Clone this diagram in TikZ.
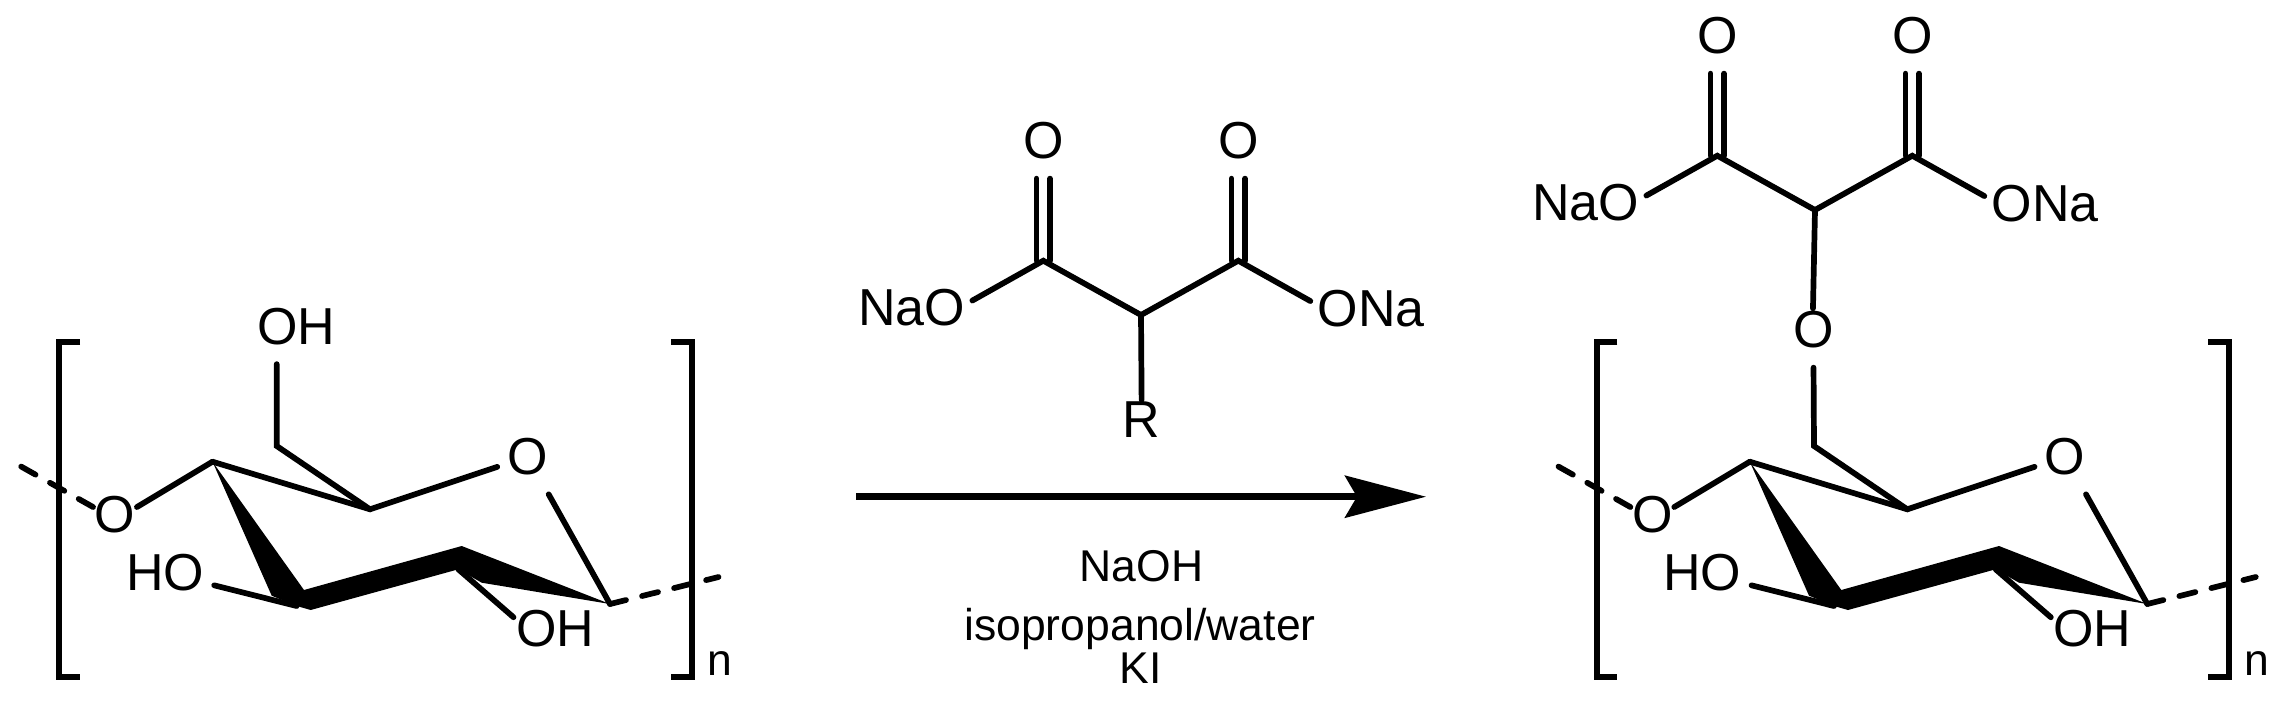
\documentclass[tikz,border=0pt]{standalone}
\usepackage{fontspec}
\setmainfont{Liberation Sans}
\usetikzlibrary{arrows.meta}
\tikzstyle{atom}=[inner xsep=10pt,inner ysep=19pt,font=\fontsize{52}{52}\selectfont]
\tikzstyle{closeatom}=[atom,inner sep=1.5pt]
\tikzstyle{tightatom}=[atom,inner sep=0pt]
\tikzstyle{saltatom}=[atom,inner sep=7pt]
\tikzstyle{reagent}=[inner sep=0pt,anchor=base,font=\fontsize{44.5}{44.5}\selectfont]
\tikzstyle{bond}=[draw,line width=5.7pt,line cap=round]
\tikzstyle{dashbond}=[bond,dash pattern=on 16.5pt off 16.5pt]
\tikzstyle{bracket}=[draw,line width=6pt]
\tikzstyle{reactionarrow}=[draw,line width=6.5pt]
\tikzstyle{wedge}=[fill=black]

\begin{document}
\begin{tikzpicture}[x=1pt,y=-1pt]
    \useasboundingbox (0,0) rectangle (2287,713);

    % Draw the two sugar units, the second one is the same shifted to the right
    \foreach \m/\dx in {a/0, b/1537.3}{
    \begin{scope}[xshift=\dx pt,name prefix=\m]
        \foreach \pos/\name in {{(610,604)/c1}, {(461.7,546)/c2}, {(458.3,569.3)/c2low}, {(481.7,582.7)/c2in},
        {(296.7,606)/c3}, {(304,590)/c3up}, {(310.7,610)/c3low}, {(271.7,595.7)/c3out},
        {(212.5,461.7)/c4}, {(370,509.3)/c5}, {(276.7,446)/c6},
        {(19.3,465.5)/leftend}, {(718.5,577)/rightend}}
            \node[coordinate] (\name) at \pos {};

        \node[atom] (ringO) at (527.7,456.7) {O};
        \node[closeatom] (linkO) at (115,515) {O};
        \node[atom] (ho) at (165,573) {HO};
        \node[tightatom] (oh) at (555,629) {OH};
        \node[reagent] (n) at (720,675) {n};

        % The thick front of the ring
        \fill[wedge] (c4) -- (c3up) -- (c2) -- (c1) -- (c2in) -- (c2low) -- (c3low) -- (c3) -- (c3out) -- cycle;

        \path[bond] (c4) -- (c5) -- (ringO);
        \path[bond] (ringO) -- (c1);
        \path[bond] (c4) -- (linkO.20);
        \path[bond] (c3) -- (ho);
        \path[bond,shorten >=3pt] (c2low) -- (oh.166);
        \path[dashbond] (linkO.160) -- (leftend);
        \path[dashbond] (c1) -- (rightend);

        \path[bracket] (80,341.7) -- (59.3,341.7) -- (59.3,677) -- (80,677);
        \path[bracket] (671,341.7) -- (691.7,341.7) -- (691.7,677) -- (671,677);
    \end{scope}
    }

    % The malonate, once as reagent and once on the product
    \foreach \m/\dx/\dy in {p/0/0, q/674/105}{
    \begin{scope}[xshift=\dx pt,yshift=\dy pt,name prefix=\m]
        \foreach \pos/\name in {{(1043.3,260.7)/cl}, {(1238.3,260.7)/cr}, {(1141,315)/ch}}
            \node[coordinate] (\name) at \pos {};
        \node[atom] (ol) at (1043.3,141) {O};
        \node[atom] (or) at (1238.3,141) {O};
        \node[saltatom] (nao) at (911.7,308) {NaO};
        \node[saltatom] (ona) at (1371,308.5) {ONa};

        \path[bond] (nao.7) -- (cl) -- (ch) -- (cr) -- (ona.173);
        \foreach \side in {-6.7,6.7}{
            \path[bond] ([xshift=\side pt]cl) -- ([xshift=\side pt]ol.south);
            \path[bond] ([xshift=\side pt]cr) -- ([xshift=\side pt]or.south);
        }
    \end{scope}
    }

    % What differs between reagent and product
    \node[atom] (r) at (1141.5,420) {R};
    \path[bond,shorten >=-17pt] (pch) -- (r.north);
    \node[atom] (ohtop) at (296,326.5) {OH};
    \path[bond] (ac6 |- ohtop.south) -- (ac6) -- (ac5);
    \node[atom] (otop) at (1813.3,330) {O};
    \path[bond,shorten >=-16pt] (qch) -- (otop.north);
    \path[bond] (otop) -- (bc6) -- (bc5);

    % The arrow with its conditions
    \coordinate (arrowstart) at (856,496.7);
    \coordinate (arrowend) at (1426,496.7);
    \path[reactionarrow,-{Stealth[length=81pt,width=42pt,inset=12pt]}] (arrowstart) -- (arrowend);
    \node[reagent] (naoh) at (1141.5,581.7) {NaOH};
    \node[reagent] (solvent) at (1140,640.7) {isopropanol/water};
    \node[reagent] (ki) at (1141,683.3) {KI};
\end{tikzpicture}
\end{document}
